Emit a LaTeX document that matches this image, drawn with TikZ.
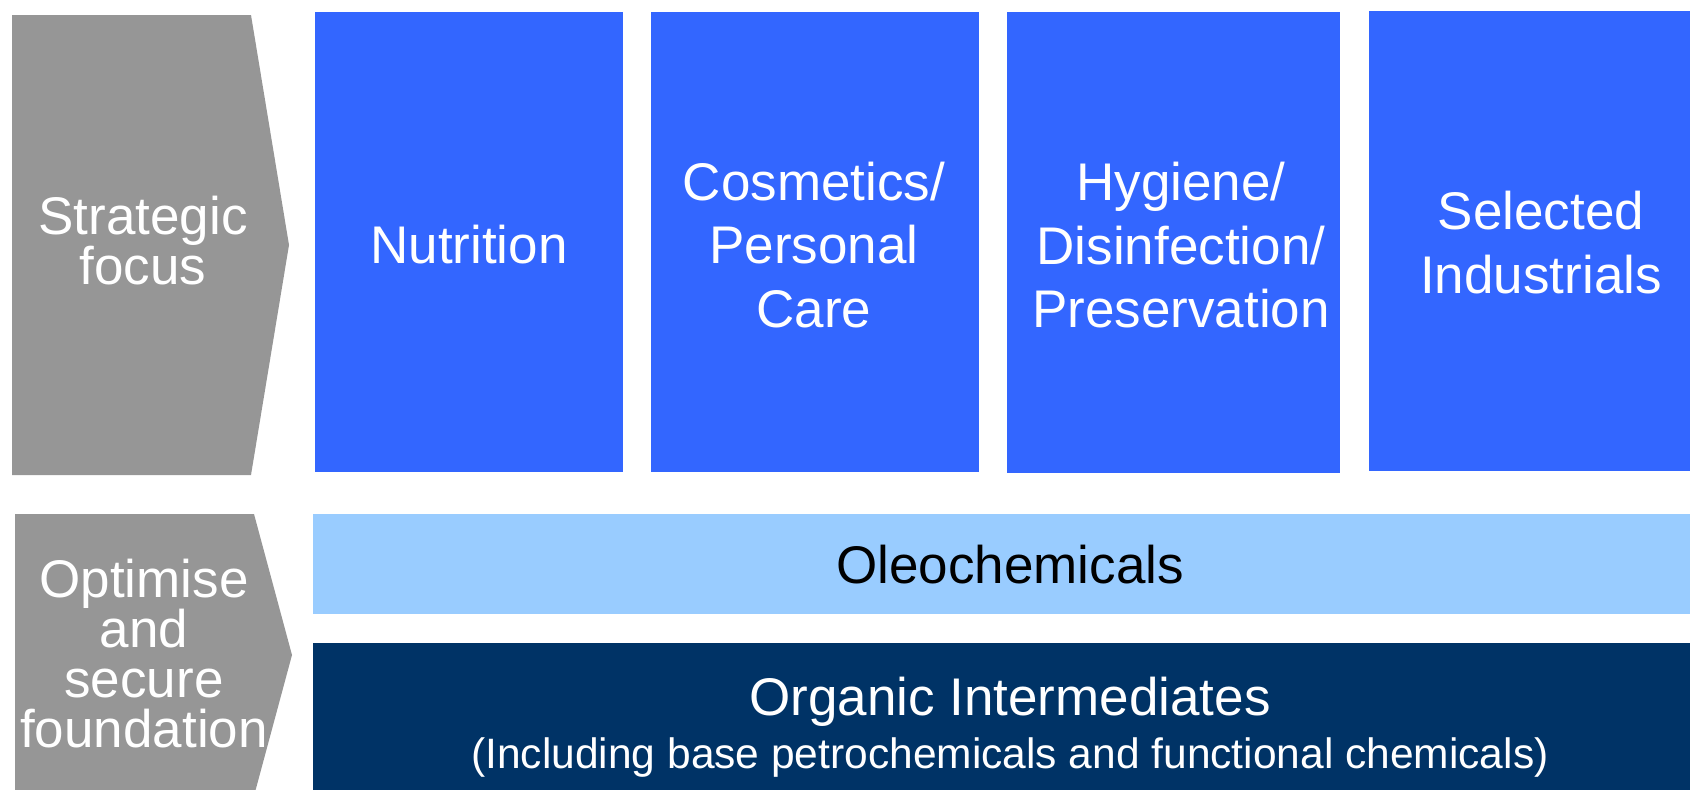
\documentclass[tikz,border=0pt]{standalone}
\usepackage{fontspec}
\setmainfont{Liberation Sans}
\definecolor{chevgray}{HTML}{969696}
\definecolor{focusblue}{HTML}{3366FF}
\definecolor{oleoblue}{HTML}{99CCFF}
\definecolor{navy}{HTML}{003366}
\begin{document}
\begin{tikzpicture}[x=1pt,y=-1pt,
  lbl/.style={inner sep=0pt, align=center, text=white, font=\fontsize{53}{63.5}\selectfont},
  chevlbl/.style={lbl, font=\fontsize{53}{50}\selectfont}]
\useasboundingbox (0,0) rectangle (1690,790);
% chevrons
\fill[chevgray] (12,15) -- (251,15) -- (289,245) -- (251,475) -- (12,475) -- cycle;
\fill[chevgray] (15,514) -- (254,514) -- (292,655) -- (255.6,790) -- (15,790) -- cycle;
% focus boxes
\fill[focusblue] (315,12) rectangle (623,472);
\fill[focusblue] (651,12) rectangle (979,472);
\fill[focusblue] (1007,12) rectangle (1340,473);
\fill[focusblue] (1369,11) rectangle (1690,471);
% foundation bars
\fill[oleoblue] (313,514) rectangle (1690,614);
\fill[navy] (313,643) rectangle (1690,790);
% labels
\node[chevlbl] (sf) at (143,241) {Strategic\\focus};
\node[chevlbl] (osf) at (144,654) {Optimise\\and\\secure\\foundation};
\node[lbl] (nut) at (469,245) {Nutrition};
\node[lbl] (cos) at (814,245) {Cosmetics/\\Personal\\Care};
\node[lbl] (hyg) at (1181,245.5) {Hygiene/\\Disinfection/\\Preservation};
\node[lbl] (ind) at (1541,242.5) {Selected\\Industrials};
\node[lbl, text=black] (oleo) at (1010,564.5) {Oleochemicals};
\node[lbl, font=\fontsize{53}{53}\selectfont] (org) at (1010,727) {Organic Intermediates\\{\fontsize{42.5}{53}\selectfont (Including base petrochemicals and functional chemicals)}};
\end{tikzpicture}
\end{document}
